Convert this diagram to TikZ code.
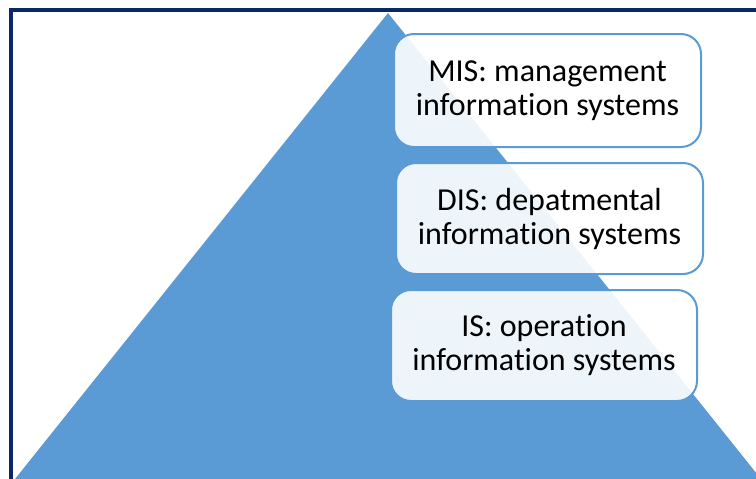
\documentclass[tikz,border=0pt]{standalone}
\usepackage{fontspec}
\setmainfont{Carlito}[Ligatures={NoCommon,NoContextual}]
\definecolor{pyramid}{HTML}{5B9BD5}
\definecolor{framenavy}{HTML}{0C2766}
\begin{document}
\begin{tikzpicture}[x=1pt,y=-1pt,
  levelbox/.style={draw=pyramid, line width=2pt, fill=white, fill opacity=0.9,
    text opacity=1, rounded corners=20pt, align=center,
    font=\fontsize{32}{34}\selectfont, inner sep=0pt}]
  \useasboundingbox (0,0) rectangle (756,479);
  \begin{scope}
    \clip (0,0) rectangle (756,479);
    % outer frame, running past the right and bottom edges
    \draw[framenavy, line width=4pt] (11,10) rectangle (790,520);
    % pyramid
    \fill[pyramid] (388,13) -- (15,479) -- (761,479) -- cycle;
  \end{scope}
  % levels
  \node[levelbox, minimum width=307pt, minimum height=113pt] (mis) at (547.5,90.5)
    {MIS: management\\information systems};
  \node[levelbox, minimum width=307pt, minimum height=111pt] (dis) at (549.5,218.5)
    {DIS: depatmental\\information systems};
  \node[levelbox, minimum width=306pt, minimum height=111pt] (is) at (544,345.5)
    {IS: operation\\information systems};
\end{tikzpicture}
\end{document}
